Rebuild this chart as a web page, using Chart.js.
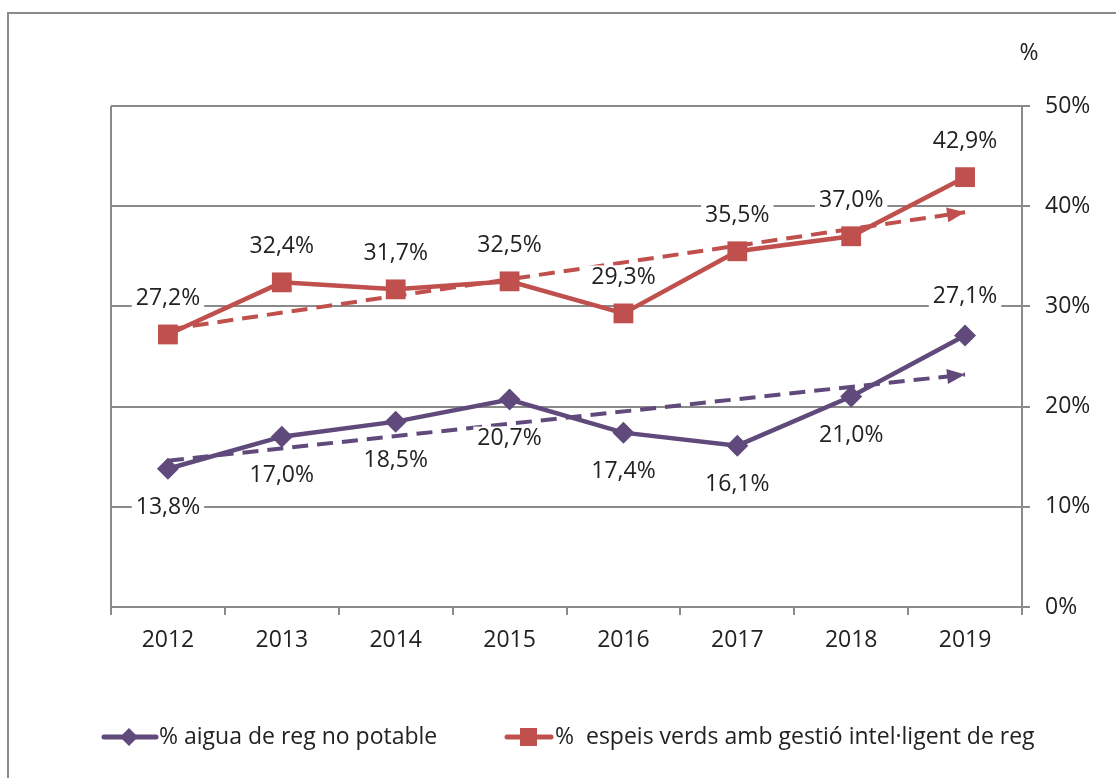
<!DOCTYPE html>
<html>
<head>
<meta charset="utf-8">
<style>
  html, body { margin: 0; padding: 0; background: #fff; }
  #wrap { position: relative; width: 1116px; height: 778px; }
</style>
<script src="https://cdn.jsdelivr.net/npm/chart.js@4.4.1/dist/chart.umd.min.js"></script>
</head>
<body>
<div id="wrap"><canvas id="chart"></canvas></div>
<script>
const years = ["2012", "2013", "2014", "2015", "2016", "2017", "2018", "2019"];
const aguaNoPotable = [13.8, 17.0, 18.5, 20.7, 17.4, 16.1, 21.0, 27.1];
const espaisVerds = [27.2, 32.4, 31.7, 32.5, 29.3, 35.5, 37.0, 42.9];
// trend lines: start and end only
const trendAgua = [14.6, null, null, null, null, null, null, 23.2];
const trendEspais = [27.7, null, null, null, null, null, null, 39.4];
const aguaLabelSide = ["below", "below", "below", "below", "below", "below", "below", "above"];
const espaisLabelSide = ["above", "above", "above", "above", "above", "above", "above", "above"];
const yTicks = [0, 10, 20, 30, 40, 50];

const legendNames = ["% aigua de reg no potable", "%  espeis verds amb gestió intel·ligent de reg"];

const PURPLE = "#604A7B";
const RED = "#C0504D";
const GRID = "#8a8a8a";
const TXT = "#222222";
const FONT = "'Open Sans', sans-serif";
const FSIZE = 23;

const fmt = (v) => v.toFixed(1).replace(".", ",") + "%";

const overlay = {
  id: "overlay",
  beforeDraw(chart) {
    const { ctx } = chart;
    ctx.save();
    ctx.fillStyle = "#fff";
    ctx.fillRect(0, 0, chart.width, chart.height);
    ctx.strokeStyle = GRID;
    ctx.lineWidth = 2;
    ctx.strokeRect(8, 13, 1300, 1000);
    ctx.restore();
  },
  afterDatasetsDraw(chart) {
    const { ctx, chartArea: a } = chart;
    ctx.save();
    // left border of the plot
    ctx.strokeStyle = GRID;
    ctx.lineWidth = 2;
    ctx.beginPath();
    ctx.moveTo(a.left, a.top);
    ctx.lineTo(a.left, a.bottom);
    ctx.stroke();

    // arrow heads on trend lines
    [2, 3].forEach((i) => {
      const pts = chart.getDatasetMeta(i).data;
      const p0 = pts[0], p1 = pts[pts.length - 1];
      const ang = Math.atan2(p1.y - p0.y, p1.x - p0.x);
      const len = 18, half = 7.5;
      ctx.fillStyle = chart.data.datasets[i].borderColor;
      ctx.beginPath();
      ctx.moveTo(p1.x, p1.y);
      ctx.lineTo(p1.x - len * Math.cos(ang) + half * Math.sin(ang), p1.y - len * Math.sin(ang) - half * Math.cos(ang));
      ctx.lineTo(p1.x - len * Math.cos(ang) - half * Math.sin(ang), p1.y - len * Math.sin(ang) + half * Math.cos(ang));
      ctx.closePath();
      ctx.fill();
    });

    // data labels with white boxes
    ctx.font = FSIZE + "px " + FONT;
    ctx.textAlign = "center";
    ctx.textBaseline = "middle";
    const drawLabels = (idx, values, sides, upOff, downOff) => {
      const pts = chart.getDatasetMeta(idx).data;
      pts.forEach((p, k) => {
        const txt = fmt(values[k]);
        const y = sides[k] === "above" ? p.y - upOff : p.y + downOff;
        const w = ctx.measureText(txt).width + 8;
        ctx.fillStyle = "#fff";
        ctx.fillRect(p.x - w / 2, y - 12, w, 24);
        ctx.fillStyle = TXT;
        ctx.fillText(txt, p.x, y);
      });
    };
    drawLabels(1, espaisVerds, espaisLabelSide, 36, 38);
    drawLabels(0, aguaNoPotable, aguaLabelSide, 39, 39);
    ctx.restore();
  },
  afterDraw(chart) {
    const { ctx } = chart;
    ctx.save();
    ctx.font = FSIZE + "px " + FONT;
    ctx.fillStyle = TXT;
    ctx.textBaseline = "middle";
    ctx.textAlign = "center";
    ctx.fillText("%", 1029, 53);

    // legend
    const ly = 737;
    ctx.textAlign = "left";
    ctx.lineCap = "round";
    ctx.lineWidth = 5;
    ctx.strokeStyle = PURPLE;
    ctx.beginPath(); ctx.moveTo(104, ly); ctx.lineTo(156, ly); ctx.stroke();
    ctx.fillStyle = PURPLE;
    ctx.beginPath();
    ctx.moveTo(129 - 9, ly); ctx.lineTo(129, ly - 9); ctx.lineTo(129 + 9, ly); ctx.lineTo(129, ly + 9);
    ctx.closePath(); ctx.fill();
    ctx.fillStyle = TXT;
    ctx.fillText(legendNames[0], 159, ly);

    ctx.strokeStyle = RED;
    ctx.beginPath(); ctx.moveTo(507, ly); ctx.lineTo(551, ly); ctx.stroke();
    ctx.fillStyle = RED;
    ctx.fillRect(520, ly - 9, 17, 18);
    ctx.fillStyle = TXT;
    ctx.fillText(legendNames[1], 555, ly);
    ctx.restore();
  }
};

new Chart(document.getElementById("chart"), {
  type: "line",
  data: {
    labels: years,
    datasets: [
      {
        label: legendNames[0],
        data: aguaNoPotable,
        borderColor: PURPLE,
        backgroundColor: PURPLE,
        borderWidth: 4.5,
        pointStyle: "rectRot",
        pointRadius: 11,
        pointBorderWidth: 0,
        tension: 0,
        order: 4,
      },
      {
        label: legendNames[1],
        data: espaisVerds,
        borderColor: RED,
        backgroundColor: RED,
        borderWidth: 4.5,
        pointStyle: "rect",
        pointRadius: 14,
        pointBorderWidth: 0,
        tension: 0,
        order: 3,
      },
      {
        label: "trend1",
        data: trendAgua,
        borderColor: PURPLE,
        borderWidth: 4,
        borderDash: [16, 9],
        pointRadius: 0,
        spanGaps: true,
        order: 2,
      },
      {
        label: "trend2",
        data: trendEspais,
        borderColor: RED,
        borderWidth: 4,
        borderDash: [16, 9],
        pointRadius: 0,
        spanGaps: true,
        order: 1,
      },
    ],
  },
  options: {
    responsive: true,
    maintainAspectRatio: false,
    animation: false,
    events: [],
    layout: { padding: { left: 111, top: 106, right: 0, bottom: 0 } },
    plugins: { legend: { display: false }, tooltip: { enabled: false } },
    scales: {
      x: {
        offset: true,
        grid: { offset: true, drawOnChartArea: false, drawTicks: true, tickLength: 8, color: GRID, lineWidth: 2 },
        border: { display: true, color: GRID, width: 2 },
        ticks: { color: TXT, font: { family: FONT, size: FSIZE }, padding: 12, maxRotation: 0 },
        afterFit: (s) => { s.height = 171; },
      },
      y: {
        position: "right",
        min: 0,
        max: 50,
        afterBuildTicks: (s) => { s.ticks = yTicks.map((v) => ({ value: v })); },
        grid: { color: GRID, lineWidth: 2, tickLength: 8 },
        border: { display: true, color: GRID, width: 2 },
        ticks: { color: TXT, font: { family: FONT, size: FSIZE }, padding: 15, callback: (v) => v + "%" },
        afterFit: (s) => { s.width = 94; },
      },
    },
  },
  plugins: [overlay],
});
</script>
</body>
</html>
